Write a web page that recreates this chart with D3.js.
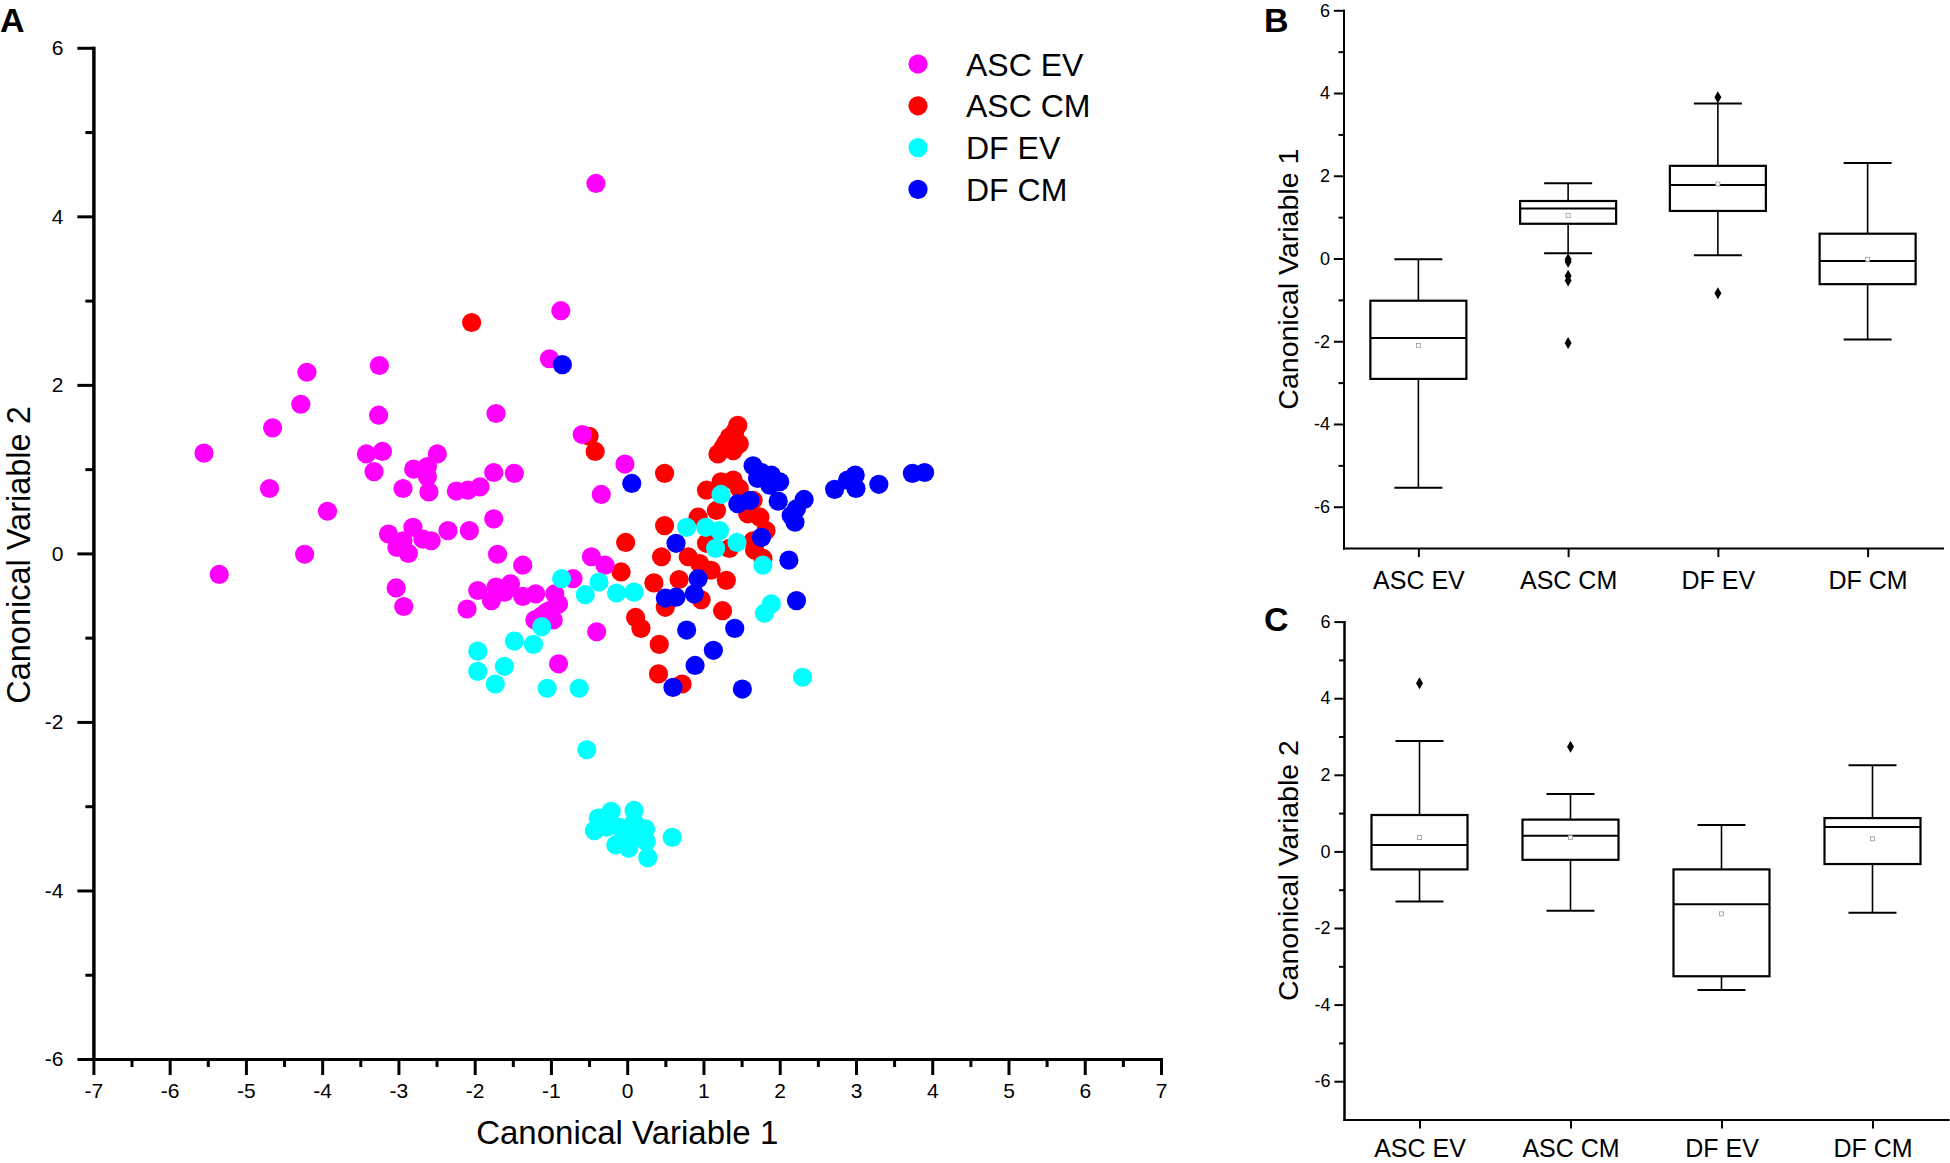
<!DOCTYPE html>
<html>
<head>
<meta charset="utf-8">
<script src="https://cdn.jsdelivr.net/npm/d3@7"></script>
<style>
  body { margin: 0; background: #fff; }
  svg text { font-family: "Liberation Sans", Arial, sans-serif; fill: #000; }
</style>
</head>
<body>
<svg id="chart"></svg>
<script>
// ---- data ----
const groups = ["ASC EV", "ASC CM", "DF EV", "DF CM"];
const groupColors = ["#ff00ff", "#ff0000", "#00ffff", "#0000ff"];

// scatter (canonical variable 1, canonical variable 2)
const ascEv = [
  [-0.87,2.88],[-1.02,2.31],[-4.20,2.15],[-3.25,2.23],[-4.28,1.77],[-3.26,1.64],[-1.72,1.66],
  [-4.65,1.49],[-5.55,1.19],[-3.42,1.18],[-3.21,1.21],[-2.49,1.18],[-3.32,0.97],[-2.80,1.00],
  [-2.62,1.03],[-2.62,0.91],[-1.75,0.96],[-1.48,0.95],[-2.94,0.77],[-2.60,0.73],[-2.24,0.74],
  [-2.09,0.75],[-1.93,0.79],[-4.69,0.77],[-3.93,0.50],[-1.75,0.41],[-3.13,0.23],[-2.81,0.31],
  [-2.94,0.15],[-3.02,0.07],[-2.87,0.00],[-2.68,0.17],[-2.57,0.15],[-2.35,0.27],[-2.07,0.27],
  [-4.23,-0.01],[-1.70,-0.01],[-1.37,-0.14],[-5.35,-0.25],[-3.03,-0.41],[-2.93,-0.63],
  [-2.10,-0.66],[-1.96,-0.44],[-1.78,-0.56],[-1.72,-0.40],[-1.61,-0.46],[-1.53,-0.36],
  [-1.37,-0.51],[-1.20,-0.48],[-1.21,-0.79],[-1.02,-0.68],[-1.06,-0.70],[-0.97,-0.79],
  [-0.95,-0.48],[-1.12,-0.74],[-0.90,-0.60],[-0.59,1.41],[-0.03,1.06],[-0.34,0.70],
  [-0.47,-0.04],[-0.29,-0.14],[-0.71,-0.30],[-0.40,-0.93],[-0.90,-1.31],[-0.41,4.39]
];
const ascCm = [
  [-2.04,2.74],[-0.50,1.39],[-0.42,1.21],[0.49,0.95],[1.45,1.52],[1.41,1.44],[1.34,1.38],
  [1.30,1.32],[1.26,1.26],[1.19,1.18],[1.39,1.22],[1.47,1.30],[1.04,0.75],[1.23,0.85],
  [1.39,0.87],[1.47,0.77],[1.17,0.51],[1.65,0.63],[1.74,0.43],[1.82,0.27],[1.58,0.47],
  [0.93,0.43],[0.49,0.33],[-0.02,0.13],[1.65,0.15],[1.67,0.04],[1.78,-0.06],[1.34,0.06],
  [1.04,0.12],[0.45,-0.04],[0.80,-0.04],[0.95,-0.12],[1.10,-0.20],[-0.08,-0.22],[0.35,-0.35],
  [0.68,-0.31],[1.30,-0.32],[0.50,-0.64],[0.97,-0.55],[1.25,-0.68],[0.11,-0.76],[0.18,-0.89],
  [0.42,-1.08],[0.41,-1.43],[0.72,-1.55]
];
const dfEv = [
  [1.23,0.70],[0.78,0.31],[1.03,0.31],[1.21,0.27],[1.44,0.13],[1.16,0.06],[1.78,-0.14],
  [-0.86,-0.30],[-0.37,-0.34],[-0.55,-0.49],[-0.14,-0.47],[0.09,-0.46],[-1.12,-0.87],
  [-1.48,-1.04],[-1.23,-1.08],[-1.96,-1.16],[-1.96,-1.40],[-1.61,-1.34],[-1.73,-1.55],
  [-1.05,-1.60],[-0.63,-1.60],[-0.53,-2.33],[1.89,-0.60],[1.80,-0.71],[2.30,-1.47],
  [-0.21,-3.06],[0.09,-3.05],[-0.38,-3.14],[-0.43,-3.29],[-0.10,-3.25],[0.09,-3.19],
  [0.24,-3.27],[-0.15,-3.46],[0.02,-3.50],[0.25,-3.42],[0.27,-3.61],[0.59,-3.37],
  [0.03,-3.37],[-0.27,-3.25]
];
const dfCm = [
  [-0.85,2.24],[0.06,0.83],[1.65,1.04],[1.76,0.96],[1.89,0.93],[2.00,0.85],[1.71,0.89],
  [1.87,0.81],[1.98,0.62],[2.32,0.64],[2.22,0.53],[2.15,0.45],[2.20,0.37],[2.72,0.76],
  [2.89,0.87],[2.99,0.93],[3.00,0.77],[3.30,0.82],[3.74,0.95],[3.90,0.96],[1.45,0.59],
  [1.61,0.63],[0.64,0.12],[1.76,0.19],[2.12,-0.08],[0.93,-0.30],[0.50,-0.53],[0.64,-0.52],
  [0.88,-0.48],[0.78,-0.91],[1.41,-0.89],[1.13,-1.15],[0.89,-1.33],[0.60,-1.59],[1.51,-1.61],
  [2.22,-0.56]
];

// box plot statistics, in the order of `groups`
const cv1Low = [-5.54, 0.13, 0.08, -1.96];
const cv1Q1 = [-2.91, 0.84, 1.15, -0.62];
const cv1Median = [-1.92, 1.21, 1.78, -0.06];
const cv1Q3 = [-1.02, 1.39, 2.24, 0.60];
const cv1High = [-0.02, 1.82, 3.75, 2.31];
const cv1Mean = [-2.10, 1.04, 1.80, -0.02];
const cv1Outliers = [[], [-0.02, -0.08, -0.42, -0.53, -2.04], [3.90, -0.84], []];

const cv2Low = [-1.31, -1.55, -3.62, -1.60];
const cv2Q1 = [-0.47, -0.22, -3.26, -0.33];
const cv2Median = [0.17, 0.41, -1.38, 0.64];
const cv2Q3 = [0.95, 0.83, -0.47, 0.87];
const cv2High = [2.88, 1.50, 0.69, 2.25];
const cv2Mean = [0.36, 0.36, -1.63, 0.33];
const cv2Outliers = [[4.39], [2.73], [], []];

// ticks
const scatterXTicks = [-7, -6, -5, -4, -3, -2, -1, 0, 1, 2, 3, 4, 5, 6, 7];
const scatterXMinor = [-6.5, -5.5, -4.5, -3.5, -2.5, -1.5, -0.5, 0.5, 1.5, 2.5, 3.5, 4.5, 5.5, 6.5];
const scatterYTicks = [-6, -4, -2, 0, 2, 4, 6];
const scatterYMinor = [-5, -3, -1, 1, 3, 5];
const boxYTicks = [-6, -4, -2, 0, 2, 4, 6];
const boxYMinor = [-5, -3, -1, 1, 3, 5];

// ---- drawing ----
const W = 1950, H = 1163;
const svg = d3.select("#chart").attr("width", W).attr("height", H);
svg.append("rect").attr("width", W).attr("height", H).attr("fill", "#fff");

const fmt = (d) => String(d);

function styleAxis(g, width, fontSize) {
  g.select(".domain").attr("stroke-width", width).attr("stroke-linecap", "square");
  g.selectAll(".tick line").attr("stroke-width", width);
  g.selectAll(".tick text").style("font-size", fontSize + "px");
}

// Panel A: scatter
const x = d3.scaleLinear().domain([-7, 7]).range([93.4, 1161]);
const y = d3.scaleLinear().domain([-6, 6]).range([1059, 47.8]);

const gA = svg.append("g");

gA.append("g")
  .attr("transform", "translate(0," + y(-6) + ")")
  .call(d3.axisBottom(x).tickValues(scatterXMinor).tickSize(8).tickSizeOuter(0).tickFormat(""))
  .call((g) => styleAxis(g, 3, 21));
gA.append("g")
  .attr("transform", "translate(0," + y(-6) + ")")
  .call(d3.axisBottom(x).tickValues(scatterXTicks).tickSize(16).tickSizeOuter(0).tickPadding(8).tickFormat(fmt))
  .call((g) => styleAxis(g, 3, 21));

gA.append("g")
  .attr("transform", "translate(" + x(-7) + ",0)")
  .call(d3.axisLeft(y).tickValues(scatterYMinor).tickSize(8).tickSizeOuter(0).tickFormat(""))
  .call((g) => styleAxis(g, 3, 21));
gA.append("g")
  .attr("transform", "translate(" + x(-7) + ",0)")
  .call(d3.axisLeft(y).tickValues(scatterYTicks).tickSize(16).tickSizeOuter(0).tickPadding(14).tickFormat(fmt))
  .call((g) => styleAxis(g, 3, 21));

// draw order as in the figure: red, magenta, cyan, blue
const scatterSets = [
  { pts: ascCm, color: groupColors[1] },
  { pts: ascEv, color: groupColors[0] },
  { pts: dfEv, color: groupColors[2] },
  { pts: dfCm, color: groupColors[3] }
];
scatterSets.forEach((s) => {
  gA.append("g")
    .attr("fill", s.color)
    .selectAll("circle")
    .data(s.pts)
    .join("circle")
    .attr("cx", (d) => x(d[0]))
    .attr("cy", (d) => y(d[1]))
    .attr("r", 9.6);
});

// legend
const legend = gA.append("g").attr("transform", "translate(918,64)");
legend.selectAll("circle")
  .data(groups)
  .join("circle")
  .attr("cx", 0)
  .attr("cy", (d, i) => i * 41.8)
  .attr("r", 9.6)
  .attr("fill", (d, i) => groupColors[i]);
legend.selectAll("text")
  .data(groups)
  .join("text")
  .attr("x", 48)
  .attr("y", (d, i) => i * 41.8)
  .attr("dy", "0.36em")
  .style("font-size", "32px")
  .text((d) => d);

gA.append("text")
  .attr("x", (x(-7) + x(7)) / 2)
  .attr("y", 1144)
  .attr("text-anchor", "middle")
  .style("font-size", "33px")
  .text("Canonical Variable 1");
gA.append("text")
  .attr("transform", "translate(30," + 555 + ") rotate(-90)")
  .attr("text-anchor", "middle")
  .style("font-size", "32.5px")
  .text("Canonical Variable 2");

// Panels B and C: box plots
function boxPanel(opt) {
  const bx = d3.scalePoint().domain(groups).range(opt.xRange).padding(0.5);
  const by = d3.scaleLinear().domain([-7, 6]).range(opt.yRange);
  const g = svg.append("g");

  g.append("g")
    .attr("transform", "translate(0," + by(-7) + ")")
    .call(d3.axisBottom(bx).tickSize(9).tickSizeOuter(0).tickPadding(opt.labelPad))
    .call((a) => styleAxis(a, 2, 25));

  g.append("g")
    .attr("transform", "translate(" + opt.xRange[0] + ",0)")
    .call(d3.axisLeft(by).tickValues(boxYMinor).tickSize(5).tickSizeOuter(0).tickFormat(""))
    .call((a) => styleAxis(a, 2, 18));
  g.append("g")
    .attr("transform", "translate(" + opt.xRange[0] + ",0)")
    .call(d3.axisLeft(by).tickValues(boxYTicks).tickSize(9.6).tickSizeOuter(0).tickPadding(4).tickFormat(fmt))
    .call((a) => styleAxis(a, 2, 18));

  const boxW = 96, capW = 48;
  const boxes = g.append("g").attr("stroke", "#000").attr("fill", "none");

  groups.forEach((name, i) => {
    const cx = bx(name);
    const b = boxes.append("g");
    // whiskers
    b.append("line")
      .attr("x1", cx).attr("x2", cx)
      .attr("y1", by(opt.high[i])).attr("y2", by(opt.q3[i]))
      .attr("stroke-width", 1.6);
    b.append("line")
      .attr("x1", cx).attr("x2", cx)
      .attr("y1", by(opt.q1[i])).attr("y2", by(opt.low[i]))
      .attr("stroke-width", 1.6);
    [opt.high[i], opt.low[i]].forEach((v) => {
      b.append("line")
        .attr("x1", cx - capW / 2).attr("x2", cx + capW / 2)
        .attr("y1", by(v)).attr("y2", by(v))
        .attr("stroke-width", 2);
    });
    // box
    b.append("rect")
      .attr("x", cx - boxW / 2)
      .attr("y", by(opt.q3[i]))
      .attr("width", boxW)
      .attr("height", by(opt.q1[i]) - by(opt.q3[i]))
      .attr("stroke-width", 2.2);
    b.append("line")
      .attr("x1", cx - boxW / 2).attr("x2", cx + boxW / 2)
      .attr("y1", by(opt.median[i])).attr("y2", by(opt.median[i]))
      .attr("stroke-width", 2);
    // mean
    b.append("rect")
      .attr("x", cx - 2).attr("y", by(opt.mean[i]) - 2)
      .attr("width", 4).attr("height", 4)
      .attr("stroke", "#999").attr("stroke-width", 0.8).attr("fill", "#fff");
    // outliers
    b.selectAll("path.out")
      .data(opt.outliers[i])
      .join("path")
      .attr("class", "out")
      .attr("d", d3.symbol(d3.symbolDiamond).size(42))
      .attr("transform", (v) => "translate(" + cx + "," + by(v) + ")")
      .attr("fill", "#000")
      .attr("stroke", "none");
  });

  g.append("text")
    .attr("transform", "translate(1298," + (opt.yRange[0] + opt.yRange[1]) / 2 + ") rotate(-90)")
    .attr("text-anchor", "middle")
    .style("font-size", "28.5px")
    .text(opt.title);

  g.append("text")
    .attr("x", 1264)
    .attr("y", opt.letterY)
    .style("font-size", "34px")
    .style("font-weight", "bold")
    .text(opt.letter);
}

boxPanel({
  xRange: [1343.5, 1942.5], yRange: [548.1, 10.3], labelPad: 14.5,
  low: cv1Low, q1: cv1Q1, median: cv1Median, q3: cv1Q3, high: cv1High,
  mean: cv1Mean, outliers: cv1Outliers,
  title: "Canonical Variable 1", letter: "B", letterY: 32
});
boxPanel({
  xRange: [1344, 1948], yRange: [1119.5, 621.6], labelPad: 10.5,
  low: cv2Low, q1: cv2Q1, median: cv2Median, q3: cv2Q3, high: cv2High,
  mean: cv2Mean, outliers: cv2Outliers,
  title: "Canonical Variable 2", letter: "C", letterY: 631
});

// panel letter A
svg.append("text")
  .attr("x", 0)
  .attr("y", 32)
  .style("font-size", "34px")
  .style("font-weight", "bold")
  .text("A");
</script>
</body>
</html>
